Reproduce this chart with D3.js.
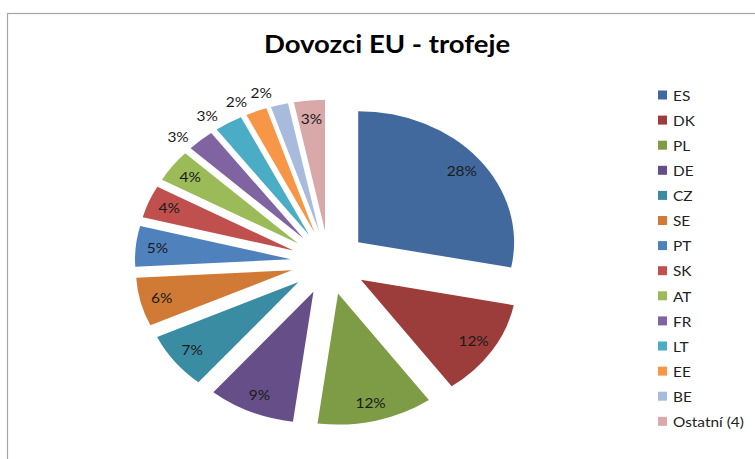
<!DOCTYPE html>
<html>
<head>
<meta charset="utf-8">
<script src="https://cdn.jsdelivr.net/npm/d3@7"></script>
<style>
  html, body { margin: 0; padding: 0; background: #fff; }
  svg { display: block; }
  text { font-family: Lato, "Open Sans", sans-serif; }
</style>
</head>
<body>
<svg id="chart" width="755" height="459"></svg>
<script>
const title = "Dovozci EU - trofeje";
const categories = ["ES", "DK", "PL", "DE", "CZ", "SE", "PT", "SK", "AT", "FR", "LT", "EE", "BE", "Ostatní (4)"];
const values = [0.281, 0.12, 0.12, 0.09, 0.07, 0.06, 0.05, 0.04, 0.04, 0.028, 0.029, 0.022, 0.018, 0.032];
const colors = ["#41699D", "#9D3D3B", "#7E9B45", "#664F88", "#3A8CA2", "#D07A35", "#4F81BD",
                "#C0504D", "#9BBB59", "#8064A2", "#4BACC6", "#F79646", "#A9BBDC", "#D9A9A9"];

const svg = d3.select("#chart");
const W = 755, H = 459;

// chart frame
svg.append("rect")
  .attr("x", 7.5).attr("y", 13.5)
  .attr("width", W + 10).attr("height", H + 10)
  .attr("fill", "#fff").attr("stroke", "#A6A6A6").attr("stroke-width", 1.2);

// title (slightly stretched horizontally like the reference)
svg.append("text")
  .attr("transform", "translate(387,53) scale(1.1,1)")
  .attr("text-anchor", "middle")
  .attr("font-size", 25).attr("font-weight", "bold").attr("fill", "#000")
  .text(title);

// pie
const r = 131, explode = 32, sx = 1.19;
const cx = 328.8, cy = 262.5;
const total = d3.sum(values);
const pie = d3.pie().sort(null).value(d => d.v);
const data = pie(categories.map((c, i) => ({ c, v: values[i], col: colors[i] })));
const arc = d3.arc().innerRadius(0).outerRadius(r);
const fmt = d3.format(".0%");

const g = svg.append("g").attr("transform", `translate(${cx},${cy}) scale(${sx},1)`);

const slice = g.selectAll("g.slice").data(data).join("g")
  .attr("class", "slice")
  .attr("transform", d => {
    const m = (d.startAngle + d.endAngle) / 2;
    return `translate(${Math.sin(m) * explode},${-Math.cos(m) * explode})`;
  });

slice.append("path")
  .attr("d", arc)
  .attr("fill", d => d.data.col);

slice.append("text")
  .attr("transform", d => {
    const m = (d.startAngle + d.endAngle) / 2;
    const inside = d.data.v / total >= 0.03;
    const rho = inside ? r * 0.86 : r * 1.12;
    const a = inside ? m : m - 0.08;
    return `translate(${Math.sin(a) * rho},${-Math.cos(a) * rho})`;
  })
  .attr("text-anchor", "middle")
  .attr("dominant-baseline", "central")
  .attr("font-size", 13)
  .attr("fill", "#1a1a1a")
  .text(d => fmt(d.data.v / total));

// legend
const lg = svg.append("g").attr("transform", "translate(658,95)");
const row = lg.selectAll("g").data(categories).join("g")
  .attr("transform", (d, i) => `translate(0,${i * 25.1})`);
row.append("rect")
  .attr("x", 0).attr("y", -4.5).attr("width", 9).attr("height", 9)
  .attr("fill", (d, i) => colors[i]);
row.append("text")
  .attr("transform", "translate(15,0) scale(1.1,1)")
  .attr("dominant-baseline", "central")
  .attr("font-size", 14).attr("fill", "#222")
  .text(d => d);
</script>
</body>
</html>
